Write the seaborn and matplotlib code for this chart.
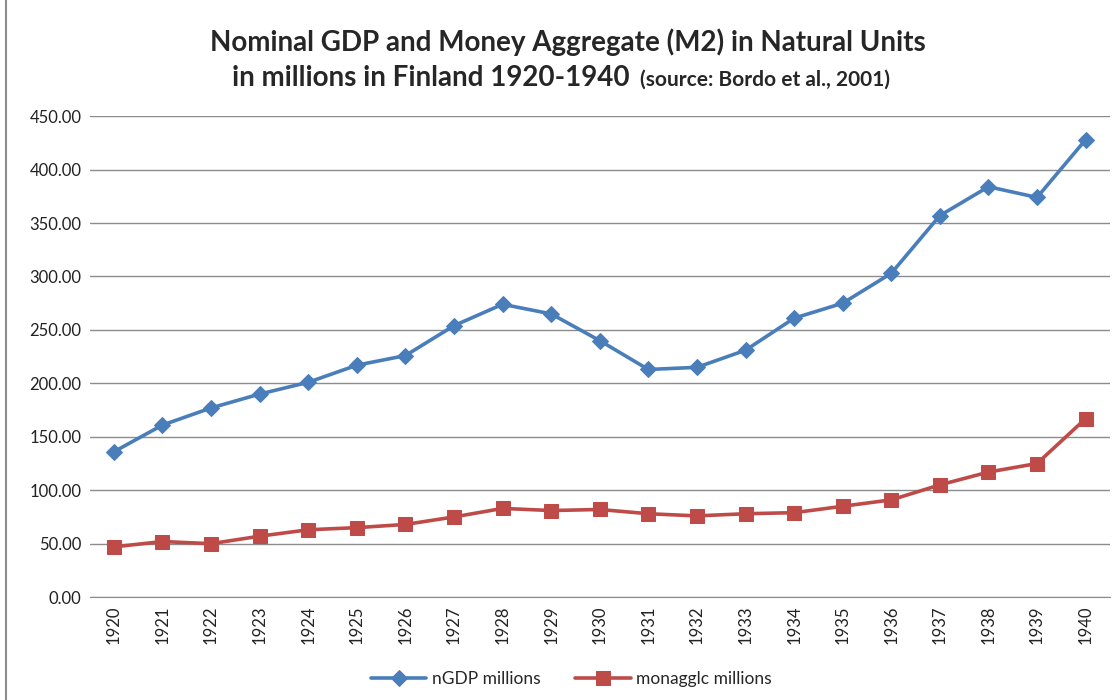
import matplotlib
matplotlib.use('Agg')
import matplotlib.pyplot as plt
import seaborn as sns
import pandas as pd
from matplotlib.patches import Rectangle

years = list(range(1920, 1941))
ngdp = [136, 161, 177, 190, 201, 217, 226, 254, 274, 265, 240,
        213, 215, 231, 261, 275, 303, 357, 384, 374, 428]
monagglc = [47, 52, 50, 57, 63, 65, 68, 75, 83, 81, 82,
            78, 76, 78, 79, 85, 91, 105, 117, 125, 167]

df = pd.DataFrame({'idx': range(len(years)), 'year': years,
                   'nGDP millions': ngdp, 'monagglc millions': monagglc})

sns.set_style('white')
plt.rcParams['font.family'] = ['Lato', 'DejaVu Sans']

fig = plt.figure(figsize=(11.2, 7), dpi=100)
ax = fig.add_axes([0.080, 0.147, 0.911, 0.687])

blue = '#4a7ebb'
red = '#be4b48'
sns.lineplot(data=df, x='idx', y='nGDP millions', ax=ax, color=blue, lw=2.6,
             marker='D', markersize=8, markeredgecolor=blue, label='nGDP millions')
sns.lineplot(data=df, x='idx', y='monagglc millions', ax=ax, color=red, lw=2.6,
             marker='s', markersize=10, markeredgecolor=red, label='monagglc millions')

ax.set_xlim(-0.5, len(years) - 0.5)
ax.set_ylim(0, 450)
ax.set_yticks(range(0, 451, 50))
ax.set_yticklabels([f'{v:.2f}' for v in range(0, 451, 50)], fontsize=12, color='#222222')
ax.set_xticks(range(len(years)))
ax.set_xticklabels([str(y) for y in years], rotation=90, fontsize=12, color='#222222')
ax.tick_params(axis='both', length=0, pad=6)
ax.yaxis.grid(True, color='#8c8c8c', lw=1)
ax.set_axisbelow(True)
for s in ['top', 'right', 'left']:
    ax.spines[s].set_visible(False)
ax.spines['bottom'].set_color('#8c8c8c')
ax.set_xlabel('')
ax.set_ylabel('')

ax.legend(loc='upper center', bbox_to_anchor=(0.472, -0.122), ncol=2, frameon=False,
          fontsize=12.5, handlelength=3.2, columnspacing=2.0, handletextpad=0.3)

fig.text(0.507, 0.94, 'Nominal GDP and Money Aggregate (M2) in Natural Units',
         ha='center', va='center', fontsize=20, fontweight='bold')
fig.text(0.5625, 0.889, 'in millions in Finland 1920-1940', ha='right', va='center',
         fontsize=20, fontweight='bold')
fig.text(0.571, 0.886, '(source: Bordo et al., 2001)', ha='left', va='center',
         fontsize=15, fontweight='bold')

fig.patches.append(Rectangle((0.005, -0.01), 1.0, 1.02, transform=fig.transFigure,
                             fill=False, edgecolor='#8c8c8c', lw=1.5))

fig.savefig('out.png', dpi=100)
